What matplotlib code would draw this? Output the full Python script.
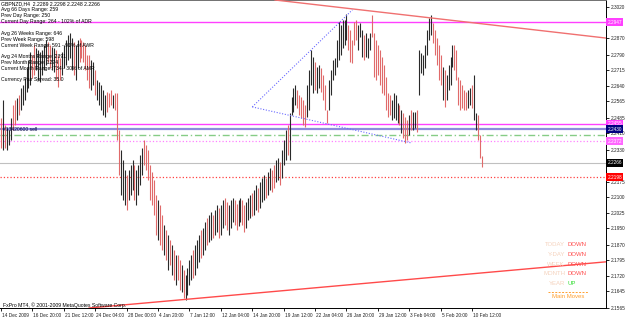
import numpy as np
import matplotlib
matplotlib.use("Agg")
import matplotlib.pyplot as plt
from matplotlib.transforms import blended_transform_factory, ScaledTranslation

# ---------------- data (GBPNZD H4) ----------------
# highs / lows in pips above 2.0000
HI = [2484, 2571, 2450, 2435, 2426, 2484, 2546, 2571, 2580, 2595,
      2629, 2643, 2677, 2725, 2764, 2803, 2788, 2836, 2822, 2812,
      2803, 2812, 2836, 2861, 2851, 2836, 2827, 2822, 2812, 2788,
      2774, 2803, 2836, 2861, 2885, 2894, 2870, 2851, 2836, 2861,
      2870, 2861, 2851, 2836, 2788, 2788, 2764, 2754, 2716, 2667,
      2658, 2643, 2619, 2595, 2609, 2604, 2619, 2595, 2604, 2604,
      2426, 2329, 2281, 2232, 2208, 2232, 2256, 2281, 2256, 2232,
      2256, 2305, 2339, 2377, 2353, 2329, 2256, 2223, 2184, 2111,
      2087, 2063, 2015, 1966, 1942, 1918, 1894, 1870, 1846, 1821,
      1821, 1797, 1773, 1749, 1725, 1759, 1797, 1821, 1846, 1870,
      1894, 1918, 1942, 1952, 1981, 2000, 2015, 2029, 2015, 2039,
      2063, 2049, 2063, 2087, 2097, 2078, 2063, 2087, 2097, 2087,
      2068, 2087, 2097, 2087, 2063, 2078, 2097, 2111, 2121, 2136,
      2160, 2145, 2174, 2194, 2208, 2194, 2223, 2242, 2232, 2256,
      2281, 2290, 2271, 2329, 2377, 2426, 2450, 2508, 2585, 2629,
      2643, 2619, 2595, 2585, 2571, 2546, 2643, 2716, 2812, 2778,
      2754, 2730, 2740, 2725, 2691, 2643, 2522, 2667, 2716, 2764,
      2774, 2861, 2948, 2933, 2957, 2957, 2986, 2933, 2909, 2861,
      2948, 2957, 2933, 2943, 2909, 2885, 2894, 2870, 2894, 2982,
      2894, 2861, 2836, 2812, 2778, 2740, 2682, 2604, 2595, 2571,
      2604, 2595, 2556, 2546, 2522, 2508, 2488, 2474, 2498, 2522,
      2513, 2513, 2522, 2812, 2798, 2788, 2836, 2909, 2967, 2982,
      2943, 2909, 2870, 2836, 2788, 2730, 2716, 2691, 2740, 2778,
      2836, 2836, 2812, 2682, 2667, 2643, 2619, 2609, 2619, 2629,
      2643, 2691, 2508, 2498, 2401, 2298]
LO = [2339, 2329, 2339, 2329, 2353, 2377, 2426, 2450, 2474, 2498,
      2522, 2546, 2571, 2609, 2629, 2643, 2677, 2691, 2716, 2667,
      2658, 2691, 2716, 2740, 2754, 2725, 2716, 2706, 2667, 2633,
      2667, 2691, 2725, 2740, 2764, 2774, 2716, 2691, 2667, 2725,
      2754, 2774, 2754, 2716, 2667, 2629, 2619, 2643, 2595, 2571,
      2546, 2522, 2498, 2488, 2513, 2537, 2546, 2532, 2522, 2377,
      2208, 2111, 2087, 2063, 2039, 2087, 2111, 2136, 2087, 2063,
      2111, 2160, 2208, 2256, 2232, 2184, 2087, 2063, 2015, 1918,
      1894, 1870, 1846, 1821, 1797, 1749, 1773, 1725, 1700, 1676,
      1700, 1652, 1642, 1613, 1604, 1628, 1676, 1700, 1710, 1725,
      1759, 1788, 1807, 1821, 1846, 1870, 1884, 1894, 1904, 1918,
      1933, 1904, 1918, 1952, 1966, 1942, 1918, 1952, 1981, 1966,
      1942, 1962, 1981, 1966, 1933, 1952, 1991, 2000, 2010, 2015,
      2039, 2029, 2049, 2078, 2087, 2097, 2111, 2136, 2126, 2145,
      2174, 2184, 2160, 2194, 2256, 2281, 2305, 2281, 2498, 2513,
      2546, 2532, 2498, 2484, 2450, 2440, 2488, 2522, 2643, 2604,
      2619, 2604, 2629, 2609, 2571, 2522, 2459, 2522, 2595, 2667,
      2691, 2730, 2764, 2788, 2822, 2836, 2861, 2812, 2754, 2749,
      2836, 2861, 2812, 2875, 2778, 2764, 2778, 2774, 2812, 2875,
      2682, 2667, 2691, 2643, 2604, 2595, 2522, 2488, 2498, 2474,
      2484, 2474, 2459, 2450, 2411, 2387, 2363, 2377, 2401, 2426,
      2426, 2435, 2416, 2595, 2701, 2691, 2725, 2788, 2861, 2885,
      2846, 2788, 2740, 2667, 2643, 2571, 2537, 2571, 2619, 2643,
      2730, 2716, 2667, 2546, 2522, 2532, 2522, 2522, 2532, 2546,
      2532, 2474, 2426, 2377, 2290, 2248]
DIRS = ("dbdbbbddbd" "bbbbbbddbb" "bbbbddbbdd" "dbbbbbbdbb" "ddddddbbdb"
        "bbbbdddbdd" "dbbbdbbbdb" "bbbddddddd" "bddbdbdbdb" "ddbdbbbbdb"
        "bbdbbdbbdb" "bdbbddbbbd" "dbbddbbbdb" "bdbbbdbbdd" "bbdbbbdbbb"
        "bdddddbbbb" "dbbddddbbb" "bbbbbbbddd" "ddbbbdbbbd" "dddddddddb"
        "bbbdbdddbd" "bbdbbbbbbb" "dddddbdbbb" "bdddddddbb" "dbbddd")

DATE_LABELS = ["14 Dec 2009", "16 Dec 20:00", "21 Dec 12:00", "24 Dec 04:00",
               "28 Dec 00:00", "4 Jan 20:00", "7 Jan 12:00", "12 Jan 04:00",
               "14 Jan 20:00", "19 Jan 12:00", "22 Jan 04:00", "26 Jan 20:00",
               "29 Jan 12:00", "3 Feb 04:00", "5 Feb 20:00", "10 Feb 12:00"]
DATE_STEP = 16  # bars between date labels

# axis price labels (those hidden behind level boxes are left out)
YTICKS = [2.3020, 2.2870, 2.2790, 2.2715, 2.2640, 2.2565, 2.2485,
          2.2410, 2.2330, 2.2175, 2.2100, 2.2025, 2.1950, 2.1870,
          2.1795, 2.1720, 2.1645, 2.1565]

# horizontal levels: (price, colour, style, width, box colour, text colour)
LEVELS = [
    (2.2947, "#ff40ff", "-", 1.0, "#ff40ff", "white"),
    (2.2455, "#ff40ff", "-", 1.0, "#ff40ff", "white"),
    (2.2430, "#8c8cdc", "-", 1.6, "#000080", "white"),
    (2.2401, "#86cc86", (0, (5, 2, 1, 2)), 1.0, None, None),
    (2.2372, "#ff80ff", ":", 0.9, "#ff66ff", "white"),
    (2.2266, "#c0c0c0", "-", 0.8, "#000000", "white"),
    (2.2198, "#ff4040", ":", 0.9, "#ff0000", "white"),
]
ORDER_LABEL = "#13420600 sell"

TREND_TOP = [(144, 2.3049), (308, 2.2870)]
TREND_BOT = [(39, 2.1560), (308, 2.1788)]
TRI_A, TRI_B, TRI_C = (128, 2.2537), (179, 2.3006), (209, 2.2363)

INFO_LINES = [
    ("GBPNZD,H4  2.2289 2.2298 2.2248 2.2266", 4),
    ("Avg 66 Days Range: 259", 10),
    ("Prev Day Range: 250", 15.7),
    ("Current Day Range: 264 - 102% of ADR", 21.7),
    ("Avg 26 Weeks Range: 646", 33.3),
    ("Prev Week Range: 598", 39),
    ("Current Week Range: 591 - 91% of AWR", 45),
    ("Avg 24 Months Range: 2391", 56.7),
    ("Prev Month Range: 1274", 62.3),
    ("Current Month Range: 734 - 30% of AMR", 68.3),
    ("Currency Pair Spread: 35.0", 80),
]
MOVES = [("TODAY", "DOWN"), ("Y-DAY", "DOWN"), ("WEEK", "DOWN"),
         ("MONTH", "DOWN"), ("YEAR", "UP")]

# ---------------- figure ----------------
W, HGT = 625, 319
fig = plt.figure(figsize=(W / 100, HGT / 100), dpi=100)
fig.patch.set_facecolor("white")
plot_right, plot_bottom = 606, 308
ax = fig.add_axes([0, 1 - plot_bottom / HGT, plot_right / W, plot_bottom / HGT])
FONT = "Liberation Sans"

hi = 2 + np.array(HI) / 10000.0
lo = 2 + np.array(LO) / 10000.0
idx = np.arange(len(hi))
cols = ["#2a2a2a" if c == "b" else "#e06a6a" for c in DIRS]

spacing = 1.963
ax.set_xlim(-1 / spacing, (plot_right - 1) / spacing)
ax.set_ylim(2.1565, 2.30538)

# levels
for price, col, ls, lw, bc, tc in LEVELS:
    ax.axhline(price, color=col, ls=ls, lw=lw, zorder=1)

ax.vlines(idx, lo, hi, colors=cols, linewidth=0.8, zorder=3)

# trend lines
ax.axline(TREND_TOP[0], TREND_TOP[1], color="#f07070", lw=1.0, zorder=4)
ax.axline(TREND_BOT[0], TREND_BOT[1], color="#ff4a4a", lw=1.0, zorder=4)
ax.plot([TRI_A[0], TRI_B[0]], [TRI_A[1], TRI_B[1]], color="#6a6aff", lw=0.8,
        ls=(0, (1, 1.5)), zorder=4)
ax.plot([TRI_A[0], TRI_C[0]], [TRI_A[1], TRI_C[1]], color="#6a6aff", lw=0.8,
        ls=(0, (1, 1.5)), zorder=4)

# axes styling
ax.spines["left"].set_visible(False)
for s in ["right", "bottom", "top"]:
    ax.spines[s].set_color("black")
    ax.spines[s].set_linewidth(0.7)
ax.spines["top"].set_color("#707070")
ax.yaxis.tick_right()
ax.set_yticks(YTICKS)
ax.set_yticklabels([f"{v:.4f}" for v in YTICKS])
ax.tick_params(axis="y", direction="out", length=2.5, width=0.6, pad=1,
               labelsize=3.4, labelcolor="#202020")
for t in ax.get_yticklabels():
    t.set_fontfamily(FONT)

ax.set_xticks([i * DATE_STEP for i in range(len(DATE_LABELS))])
ax.set_xticklabels(DATE_LABELS)
ax.tick_params(axis="x", direction="out", length=2.5, width=0.6, pad=1,
               labelsize=3.4, labelcolor="#202020")
off = ScaledTranslation(1 / 100, 0, fig.dpi_scale_trans)
for t in ax.get_xticklabels():
    t.set_fontfamily(FONT)
    t.set_ha("left")
    t.set_transform(t.get_transform() + off)

# price boxes on right axis
bt = blended_transform_factory(fig.transFigure, ax.transData)
for price, col, ls, lw, bc, tc in LEVELS:
    if bc is None:
        continue
    ax.text(607.5 / W, price, f"{price:.4f}", transform=bt, fontsize=3.4,
            family=FONT, color=tc, va="center", ha="left", clip_on=False,
            zorder=10,
            bbox=dict(boxstyle="square,pad=0.25", fc=bc, ec="none"))

# order label
ax.text(3 / W, LEVELS[2][0], ORDER_LABEL, transform=bt, fontsize=3.6,
        family=FONT, color="#000040", va="center", ha="left", zorder=6)

# info text
for s, y in INFO_LINES:
    fig.text(1.5 / W, 1 - y / HGT, s, fontsize=3.7, family=FONT, color="black",
             va="center", ha="left", zorder=8)

fig.text(3 / W, 1 - 305 / HGT, "FxPro MT4, \u00a9 2001-2009 MetaQuotes Software Corp.",
         fontsize=3.7, family=FONT, color="black", va="center", ha="left")

# main moves legend
for k, (lab, mv) in enumerate(MOVES):
    y = 245 + k * 9.6
    fig.text(565 / W, 1 - y / HGT, lab, fontsize=4.3, family=FONT,
             color="#f5d2bd", va="center", ha="right")
    fig.text(568 / W, 1 - y / HGT, mv, fontsize=4.3, family=FONT,
             color="#ff4d4d" if mv == "DOWN" else "#33dd33",
             va="center", ha="left")
fig.add_artist(plt.Line2D([548 / W, 588 / W], [1 - 292 / HGT, 1 - 292 / HGT],
                          color="#ffa030", lw=0.7, ls=(0, (2, 1.5))))
fig.text(568 / W, 1 - 297 / HGT, "Main Moves", fontsize=4.3, family=FONT,
         color="#ffa030", va="center", ha="center")

fig.savefig("out.png", dpi=100, facecolor="white")
